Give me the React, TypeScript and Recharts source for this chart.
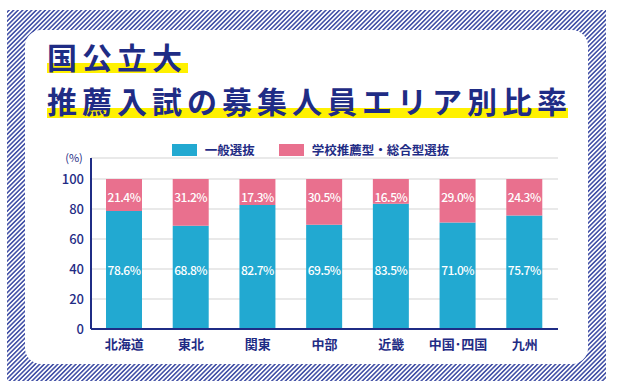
import { BarChart, Bar, XAxis, YAxis, CartesianGrid, Legend, LabelList } from "recharts";

// data
const regions = ["北海道", "東北", "関東", "中部", "近畿", "中国･四国", "九州"];
const general = [78.6, 68.8, 82.7, 69.5, 83.5, 71.0, 75.7];
const recommend = [21.4, 31.2, 17.3, 30.5, 16.5, 29.0, 24.3];
const yTicks = [0, 20, 40, 60, 80, 100];

const NAVY = "#1f2c85";
const BLUE = "#22a9d1";
const PINK = "#e9708e";
const FONT = "'Noto Sans CJK JP', 'Noto Sans', sans-serif";

const data = regions.map((name, i) => ({
    name,
    general: general[i],
    recommend: recommend[i],
}));

const pct = (v: number) => `${Number(v).toFixed(1)}%`;

// pink labels sit near the top of the segment, blue ones at a fixed height above the base
const topLabel = (props: any) => {
    const { x, y, width, value } = props;
    return (
        <text x={x + width / 2} y={y + 17} fill="#fff" fontSize={12} fontWeight={500} letterSpacing={-0.5}
            textAnchor="middle" dominantBaseline="central" fontFamily={FONT}>
            {pct(value)}
        </text>
    );
};

const baseLabel = (props: any) => {
    const { x, y, width, height, value } = props;
    return (
        <text x={x + width / 2} y={y + height - 60} fill="#fff" fontSize={12} fontWeight={500} letterSpacing={-0.5}
            textAnchor="middle" dominantBaseline="central" fontFamily={FONT}>
            {pct(value)}
        </text>
    );
};

const renderLegend = (props: any) => {
    const { payload } = props;
    return (
        <div style={{ display: "flex", justifyContent: "center", gap: 24, fontFamily: FONT }}>
            {payload.map((p: any) => (
                <div key={p.value} style={{ display: "flex", alignItems: "center" }}>
                    <span style={{ width: 25, height: 12, background: p.color, marginRight: 8, display: "inline-block" }} />
                    <span style={{ fontSize: 12.5, fontWeight: 700, color: NAVY }}>{p.value}</span>
                </div>
            ))}
        </div>
    );
};

function Frame() {
    return (
        <svg width={621} height={389} style={{ position: "absolute", left: 0, top: 0 }}>
            <defs>
                <pattern id="hatch" patternUnits="userSpaceOnUse" width={3.2} height={8} patternTransform="rotate(45)">
                    <line x1={0.8} y1={0} x2={0.8} y2={8} stroke="#2b3b9c" strokeWidth={1.4} />
                </pattern>
            </defs>
            <rect x={7} y={10} width={599} height={371} fill="url(#hatch)" />
            <rect x={25} y={30} width={563} height={334} rx={16} fill="#fff" />
            <rect x={47} y={63} width={141} height={10} fill="#fff100" />
            <rect x={47} y={108} width={521} height={10} fill="#fff100" />
            <g fontFamily={FONT} fontWeight={700} fontSize={30} fill={NAVY} letterSpacing={5}>
                <text x={47} y={69}>国公立大</text>
                <text x={47} y={113}>推薦入試の募集人員エリア別比率</text>
            </g>
            <text x={74} y={162} fontFamily={FONT} fontSize={11} fill={NAVY} textAnchor="middle">(%)</text>
        </svg>
    );
}

export default function App() {
    return (
        <div style={{ position: "absolute", left: 0, top: 0, width: 621, height: 389, background: "#fff" }}>
            <Frame />
            <div style={{ position: "absolute", left: 0, top: 0 }}>
                <BarChart width={621} height={389} data={data}
                    margin={{ top: 158, right: 63, bottom: 30, left: 0 }}>
                    <CartesianGrid vertical={false} stroke="#e2e2e2" strokeWidth={1.5} />
                    <XAxis dataKey="name" height={30} axisLine={{ stroke: NAVY, strokeWidth: 2 }}
                        tickLine={false} tickMargin={5} interval={0}
                        tick={{ fill: NAVY, fontSize: 13, fontWeight: 700, fontFamily: FONT }} />
                    <YAxis width={91} domain={[0, 114]} ticks={yTicks} allowDataOverflow
                        axisLine={{ stroke: NAVY, strokeWidth: 2 }} tickLine={false} tickMargin={1}
                        tick={{ fill: NAVY, fontSize: 13, fontWeight: 500, fontFamily: FONT }} />
                    <Legend verticalAlign="middle" align="center" content={renderLegend}
                        wrapperStyle={{ top: 140, left: 0, width: 621 }} />
                    <Bar dataKey="general" name="一般選抜" stackId="a" fill={BLUE} barSize={36} isAnimationActive={false}>
                        <LabelList dataKey="general" content={baseLabel} />
                    </Bar>
                    <Bar dataKey="recommend" name="学校推薦型・総合型選抜" stackId="a" fill={PINK} barSize={36} isAnimationActive={false}>
                        <LabelList dataKey="recommend" content={topLabel} />
                    </Bar>
                </BarChart>
            </div>
        </div>
    );
}
